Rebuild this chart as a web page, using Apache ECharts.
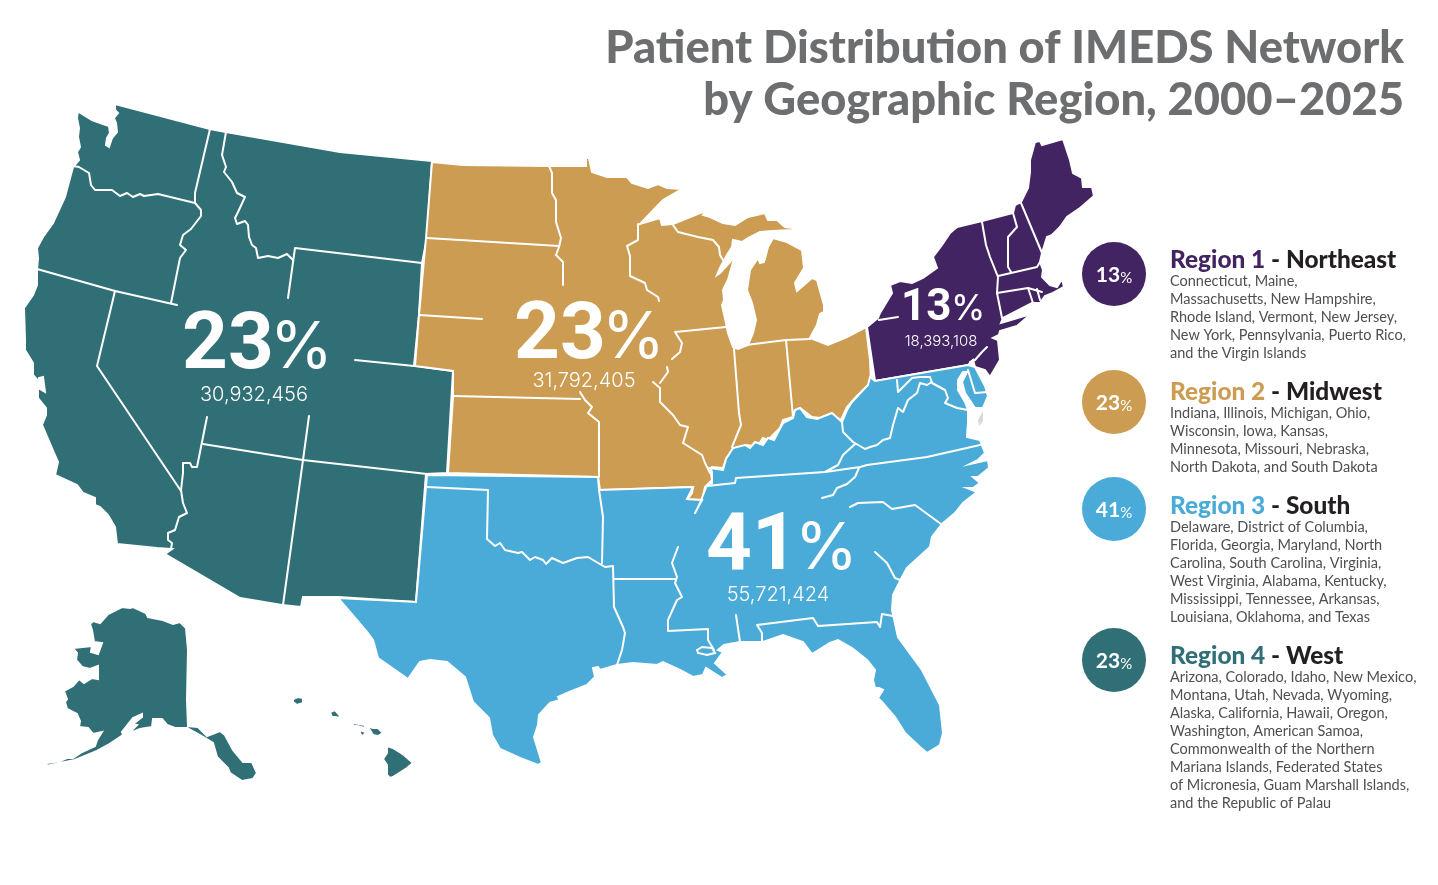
<!DOCTYPE html>
<html>
<head>
<meta charset="utf-8">
<title>Patient Distribution of IMEDS Network</title>
<script src="https://cdn.jsdelivr.net/npm/echarts@6/dist/echarts.min.js"></script>
<style>
  html, body { margin: 0; padding: 0; background: #fff; }
  #chart { width: 1438px; height: 885px; }
</style>
</head>
<body>
<div id="chart"></div>
<script>
// values
const regionLabels = ['Region 1', 'Region 2', 'Region 3', 'Region 4']
const regionNames = ['Northeast', 'Midwest', 'South', 'West']
const regionShares = [13, 23, 41, 23]
const regionPatients = [18393108, 31792405, 55721424, 30932456]
const regionColors = ['#422462', '#cb9c51', '#4aabd8', '#306f76']
const regionStates = [
  ['Connecticut, Maine,', 'Massachusetts, New Hampshire,', 'Rhode Island, Vermont, New Jersey,', 'New York, Pennsylvania, Puerto Rico,', 'and the Virgin Islands'],
  ['Indiana, Illinois, Michigan, Ohio,', 'Wisconsin, Iowa, Kansas,', 'Minnesota, Missouri, Nebraska,', 'North Dakota, and South Dakota'],
  ['Delaware, District of Columbia,', 'Florida, Georgia, Maryland, North', 'Carolina, South Carolina, Virginia,', 'West Virginia, Alabama, Kentucky,', 'Mississippi, Tennessee, Arkansas,', 'Louisiana, Oklahoma, and Texas'],
  ['Arizona, Colorado, Idaho, New Mexico,', 'Montana, Utah, Nevada, Wyoming,', 'Alaska, California, Hawaii, Oregon,', 'Washington, American Samoa,', 'Commonwealth of the Northern', 'Mariana Islands, Federated States', 'of Micronesia, Guam Marshall Islands,', 'and the Republic of Palau']
]

// region outlines, "x,y" in map units
const westOutline = '78,110 79,112 92,120 103,124 109,126 110,133 107,138 106,145 109,147 112,138 117,132 116,123 114,118 118,113 115,110 115,104 210,129 226,132 340,152 432,161 427,238 422,263 419,315 414,366 453,371 447,473 426,474 416,602 338,597 337,598 303,597 301,607 282,605 240,598 165,554 172,549 157,548 117,544 115,527 108,515 100,507 95,505 95,498 83,493 77,485 55,475 58,462 54,453 42,425 46,415 46,408 38,398 38,388 45,392 43,377 39,378 39,382 33,375 33,363 25,350 25,340 24,308 33,295 37,285 37,270 38,258 37,248 43,237 53,223 65,197 73,167 79,160 77,152 80,147 78,137 79,128 77,118'
const alaskaOutline = '90,624 93,621 100,623 108,614 122,607 130,608 133,607 146,613 148,617 163,620 173,624 180,622 186,628 188,650 187,700 188,726 198,727 207,736 220,731 225,735 233,750 243,762 252,762 257,773 253,779 242,781 230,773 228,768 217,757 213,743 200,735 187,728 175,728 167,725 162,719 153,719 152,727 140,729 133,732 132,730 137,725 133,724 142,717 142,714 133,718 122,732 123,735 108,745 97,751 75,760 60,763 46,766 47,763 60,761 67,758 73,758 82,752 95,746 97,740 102,732 93,734 88,728 79,727 80,721 77,714 67,709 65,702 67,699 64,691 73,686 79,679 84,683 92,678 98,679 98,666 90,669 82,667 76,660 77,653 73,648 92,646 91,652 98,654 102,643 94,642 92,630'
const hawaiiIslands = [
  '293,699 298,697 303,698 303,703 297,705 293,702',
  '330,712 335,710 342,718 335,717 332,717',
  '353,723 365,725 365,728 357,726 353,726',
  '359,730 366,732 363,736 361,735',
  '367,726 373,728 378,728 383,733 378,736 373,735 370,730',
  '387,746 393,748 404,755 413,763 407,768 393,777 390,778 387,775 387,765 383,759 387,753'
]
const midwestOutline = '432,162 463,165 548,166 586,166 586,158 589,158 592,172 607,177 618,177 627,177 632,183 648,188 658,184 667,188 682,189 663,200 640,224 660,218 662,225 673,224 703,212 710,202 713,201 703,215 710,217 723,223 735,225 748,217 765,213 768,220 777,220 785,227 793,228 793,230 773,231 760,232 748,238 742,242 733,240 732,247 727,255 720,268 717,275 720,273 730,262 735,255 728,280 723,290 724,300 722,305 726,323 728,333 733,347 738,349 748,345 753,333 756,320 752,303 747,290 750,270 758,258 760,263 764,262 768,247 773,238 787,242 802,250 804,268 795,283 797,291 812,278 817,280 824,305 824,312 820,314 817,325 810,338 828,345 847,337 866,327 870,360 871,382 855,398 847,407 841,420 830,414 820,418 812,417 800,408 793,412 793,417 783,420 780,428 768,440 763,438 757,447 747,445 735,448 730,455 727,457 723,468 712,467 711,473 712,480 705,487 702,500 687,500 692,493 693,487 600,490 599,490 598,477 448,473 453,397 453,371 415,366 419,315 426,238'
const northeastOutline = '957,227 982,221 1013,213 1015,205 1021,202 1028,188 1030,172 1030,160 1035,142 1040,141 1042,145 1063,139 1070,160 1073,173 1082,178 1083,187 1092,187 1094,196 1080,208 1067,217 1060,227 1052,235 1047,237 1042,253 1040,262 1043,270 1042,277 1050,285 1057,287 1062,279 1064,287 1053,293 1045,296 1040,303 1032,303 1003,318 1001,323 1031,314 1017,326 1000,331 999,335 993,338 998,340 1000,360 990,377 985,370 975,367 973,360 968,365 875,381 867,327 878,318 880,313 892,293 890,285 900,281 912,283 923,278 937,268 933,257 942,245 950,233'
const southOutline = '427,475 598,477 599,490 693,487 687,499 702,500 700,503 707,485 712,483 712,472 710,468 723,470 726,459 733,448 745,445 750,448 755,442 763,445 768,438 774,440 783,423 793,418 795,410 800,408 807,417 817,419 832,413 842,422 847,410 852,402 868,385 870,377 875,381 968,365 975,367 985,386 988,396 983,408 975,408 965,393 962,382 967,372 963,372 958,380 958,390 965,402 968,410 968,422 967,437 980,440 983,448 985,453 978,460 970,464 988,460 989,468 978,477 973,477 980,483 973,488 967,488 977,492 963,503 955,513 942,524 932,537 930,547 907,568 902,577 893,595 892,610 898,637 922,670 940,705 943,733 940,745 927,753 920,747 905,733 895,717 882,702 878,698 883,690 879,688 875,688 873,680 875,670 867,660 852,648 838,640 830,643 812,654 803,642 783,635 763,642 740,642 724,645 718,650 723,652 715,663 728,675 722,678 706,668 703,675 693,677 680,670 663,662 657,665 633,663 617,665 600,670 598,667 593,668 595,677 587,685 567,693 558,697 560,700 550,703 539,715 538,725 534,737 542,763 538,765 520,758 500,749 492,735 489,718 473,702 465,677 447,662 430,660 420,662 408,679 378,658 373,640 367,632 338,598 416,602'
const pontchartrainHole = '697,650 702,647 712,648 715,653 707,655 698,653'
const delmarvaSliver = '983,411 978,420 979,426 983,421'

// state borders, with the breaks the reference leaves round its callouts
const stateBorders = [
  // west
  '73,166 79,167 89,173 91,185 95,190 112,190 120,196 127,193 133,197 140,194 144,196 158,194 195,203',
  '210,129 195,193 195,203 201,210 201,216 191,229 183,235 180,245 186,250 180,258 171,303',
  '37,269 115,291 177,305',
  '226,132 222,155 226,167 224,172 232,182 237,193 245,197 238,212 235,218 237,224 245,221 248,225 249,237 252,245 256,248 258,258 268,256 278,258 287,254 293,260',
  '288,298 295,248 422,263',
  '115,291 97,366 181,491',
  '355,360 414,366',
  '309,416 303,460 283,605',
  '203,444 303,460 427,474',
  '207,417 197,467 192,467 190,463 183,463 183,473 181,490 183,503 187,513 179,517 175,530 168,533 168,540 172,543 171,549',
  // midwest
  '427,238 559,246',
  '549,166 552,173 552,193 556,200 556,222 561,238 559,247 556,255 563,262 563,285',
  '419,315 482,319',
  '453,396 580,399',
  '580,392 585,400 592,407 588,413 599,422 599,477',
  '638,224 638,240 627,246 630,256 630,276 645,283 647,290 658,297 659,301',
  '673,225 678,232 698,237 713,240 719,247 720,255 723,260',
  '672,359 680,352 682,343 675,332 726,327',
  '667,367 668,372 660,383',
  '653,382 660,388 660,402 673,415 680,425 688,427 683,443 702,455 705,463 710,473',
  '734,349 739,413 741,425 732,447',
  '786,340 793,417',
  '738,346 786,340 810,339',
  // northeast
  '879,320 898,317',
  '982,222 986,245 990,257 998,277 997,293 1002,318',
  '1013,213 1017,227 1008,237 1008,267 1011,272',
  '1021,203 1042,253',
  '998,276 1037,267 1040,262',
  '997,293 1028,288 1042,292',
  '1028,288 1033,303',
  '1037,289 1040,300',
  '987,347 982,352 975,360 970,362',
  // south
  '427,487 488,490 487,539 495,546 500,543 505,550 518,553 522,552 530,560 535,557 543,560 546,564 552,558 563,563 577,558 588,557 605,567 613,566 614,607 623,627 625,633 622,650 617,665',
  '599,490 603,517 602,563',
  '614,579 675,579',
  '702,500 695,513',
  '678,547 672,563 677,577 675,583 682,597 677,600 668,620 668,631 708,629 708,640 714,650',
  '736,615 740,642',
  '762,643 762,633 757,625 813,618 818,626 877,622 880,627 882,614 893,616',
  '875,552 887,563 895,578 900,580',
  '850,507 858,503 883,502 892,509 915,505 941,524',
  '822,498 833,495 837,488 847,484 855,477 859,468',
  '707,486 735,483 736,478 825,472 860,467 867,465 927,457 980,445',
  '825,472 838,465 843,455 855,444',
  '842,422 843,432 853,442 865,449 870,447 877,445 883,440 890,438 893,425 898,408 903,412 908,400 917,393 920,383 927,385 932,382',
  '897,380 898,392 912,378 920,377 930,377 932,383 945,390 948,398 945,403 957,408 968,410',
  '968,370 975,393 988,392'
]

const ring = s => s.split(' ').map(p => {
  const [x, y] = p.split(',').map(Number)
  return [x, -y]
})
const closed = s => {
  const r = ring(s)
  r.push(r[0])
  return r
}
const feature = (name, polygons) => ({
  type: 'Feature',
  properties: { name },
  geometry: { type: 'MultiPolygon', coordinates: polygons }
})

echarts.registerMap('imeds', {
  type: 'FeatureCollection',
  features: [
    feature('West', [[closed(westOutline)], [closed(alaskaOutline)]].concat(hawaiiIslands.map(s => [closed(s)]))),
    feature('Midwest', [[closed(midwestOutline)]]),
    feature('Northeast', [[closed(northeastOutline)]]),
    feature('South', [[closed(southOutline), closed(pontchartrainHole)]]),
    feature('Delmarva', [[closed(delmarvaSliver)]])
  ]
})

const digitFont = 'Roboto'
const pctFont = 'Inter'
const textFont = 'Lato'
// callout and legend placement
const calloutPos = [
  { x: 901, y: 309, size: 44, pctSize: 35, pctX: 951, subX: 941, subY: 341, subSize: 15 },
  { x: 514, y: 338, size: 80, pctSize: 64, pctX: 602, subX: 584, subY: 381, subSize: 20 },
  { x: 706, y: 549, size: 80, pctSize: 64, pctX: 795, subX: 778, subY: 595, subSize: 20 },
  { x: 182, y: 348, size: 80, pctSize: 64, pctX: 270, subX: 254, subY: 395, subSize: 20 }
]
const legendY = [274, 402, 509, 660]
const headY = [260, 392, 506, 656]

const graphics = []
regionNames.forEach((name, i) => {
  const c = calloutPos[i]
  graphics.push(
    { type: 'text', z: 10, x: c.x, y: c.y, silent: true, style: { text: String(regionShares[i]), fill: '#fff', font: `700 ${c.size}px ${digitFont}`, verticalAlign: 'middle' } },
    { type: 'text', z: 10, x: c.pctX, y: c.y + c.size * 0.01, silent: true, style: { text: '%', fill: '#fff', font: `400 ${c.pctSize}px ${pctFont}`, verticalAlign: 'middle' } },
    { type: 'text', z: 10, x: c.subX, y: c.subY, silent: true, style: { text: regionPatients[i].toLocaleString('en-US'), fill: '#fff', font: `300 ${c.subSize}px ${pctFont}`, align: 'center', verticalAlign: 'middle' } }
  )
  // legend entry
  graphics.push(
    { type: 'circle', silent: true, shape: { cx: 1114, cy: legendY[i], r: 32 }, style: { fill: regionColors[i] } },
    { type: 'text', x: 1114, y: legendY[i], silent: true, style: {
      text: `{n|${regionShares[i]}}{p|%}`, align: 'center', verticalAlign: 'middle',
      rich: {
        n: { fill: '#fff', font: `700 21px ${textFont}`, verticalAlign: 'bottom', lineHeight: 24 },
        p: { fill: '#fff', font: `400 15px ${textFont}`, verticalAlign: 'bottom', lineHeight: 22 }
      }
    } },
    { type: 'text', x: 1170, y: headY[i], silent: true, style: {
      text: `{r|${regionLabels[i]}}{d| - ${name}}`, verticalAlign: 'middle',
      rich: {
        r: { fill: regionColors[i], font: `900 24.4px ${textFont}` },
        d: { fill: '#231f20', font: `900 24.4px ${textFont}` }
      }
    } }
  )
  regionStates[i].forEach((line, k) => {
    graphics.push({ type: 'text', x: 1170, y: headY[i] + 21 + k * 18, silent: true, style: { text: line, fill: '#4f4f4f', font: `400 14.5px ${textFont}`, verticalAlign: 'middle' } })
  })
})

const chart = echarts.init(document.getElementById('chart'))
chart.setOption({
  animation: false,
  backgroundColor: '#fff',
  title: {
    text: 'Patient Distribution of IMEDS Network\nby Geographic Region, 2000–2025',
    left: 1399,
    top: 17,
    textAlign: 'right',
    textStyle: { color: '#6d6e70', fontFamily: textFont, fontWeight: 900, fontSize: 45.3, lineHeight: 52 }
  },
  geo: {
    map: 'imeds',
    roam: false,
    silent: true,
    aspectScale: 1,
    boundingCoords: [[0, 0], [1438, -885]],
    left: 0, top: 0, width: 1438, height: 885,
    label: { show: false },
    itemStyle: { borderColor: '#fff', borderWidth: 2 },
    regions: regionNames.map((name, i) => ({ name, itemStyle: { areaColor: regionColors[i] } }))
      .concat([{ name: 'Delmarva', itemStyle: { areaColor: '#d9d9d9', borderWidth: 0 } }])
  },
  series: [{
    type: 'lines',
    coordinateSystem: 'geo',
    polyline: true,
    silent: true,
    symbol: 'none',
    lineStyle: { color: '#fff', width: 2, opacity: 1, cap: 'round', join: 'round' },
    data: stateBorders.map(s => ({ coords: ring(s) }))
  }],
  graphic: graphics
})
window.addEventListener('resize', () => chart.resize())
</script>
</body>
</html>
